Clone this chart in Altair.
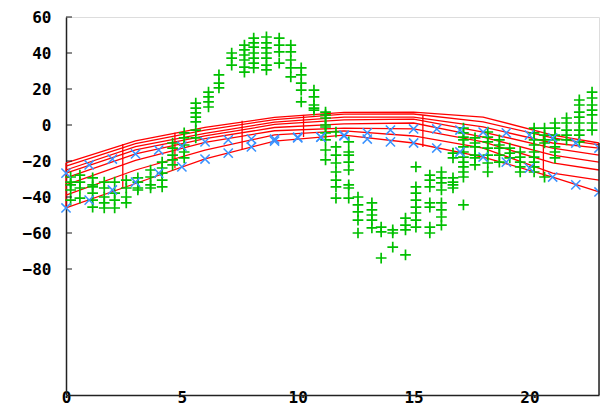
import altair as alt
import pandas as pd

# ---------------- data ----------------
red_x = [0, 3, 6, 9, 12, 15, 18, 21, 23]
red_curves = [
    [-21.1, -8.8, -1.3, 4.2, 7.0, 7.2, 4.4, -5.6, -10.0],
    [-22.8, -10.3, -2.8, 3.0, 6.0, 6.1, 1.7, -7.2, -11.1],
    [-25.0, -12.0, -4.6, 1.6, 4.4, 4.4, -1.1, -10.0, -12.8],
    [-26.7, -13.8, -6.1, 0.3, 2.8, 3.3, -3.9, -12.8, -16.7],
    [-29.4, -16.1, -7.6, -1.4, 0.6, 1.1, -6.7, -16.7, -20.6],
    [-33.3, -19.6, -9.6, -3.2, -1.7, -2.2, -9.4, -21.1, -25.0],
    [-38.9, -25.0, -13.9, -5.5, -3.3, -6.1, -12.8, -26.7, -30.6],
    [-46.1, -32.5, -18.8, -9.0, -5.6, -10.0, -17.8, -28.9, -37.2],
]
vseg_x = [0, 2.45, 4.7, 7.6, 10.25, 15.4, 20.6]
vseg_top = [-21.1, -10.5, -4.3, 2.4, 5.6, 5.6, -5.6]
vseg_bot = [-46.1, -35.0, -24.0, -13.3, -6.7, -12.2, -28.9]

blue_x = list(range(24))
blue_upper = [-26.7, -22.2, -18.9, -16.1, -13.9, -11.7, -9.4, -8.3, -7.8, -7.8,
              -6.7, -6.7, -5.6, -4.4, -2.8, -2.2, -2.2, -2.8, -3.9, -4.4,
              -5.6, -7.2, -10.0, -12.8]
blue_lower = [-46.1, -41.7, -36.1, -31.7, -26.7, -23.3, -18.9, -15.6, -12.2, -8.9,
              -7.2, -6.7, -6.1, -7.8, -9.4, -10.0, -12.8, -15.0, -17.8, -20.6,
              -23.9, -28.9, -33.3, -37.2]

green_x = [0.2, 0.6, 1.15, 1.65, 2.1, 2.6, 3.1, 3.65, 4.15, 4.6, 5.1, 5.6,
           6.15, 6.6, 7.15, 7.7, 8.1, 8.65, 9.2, 9.7, 10.15, 10.7, 11.2, 11.65,
           12.2, 12.6, 13.2, 13.6, 14.1, 14.65, 15.1, 15.7, 16.2, 16.7, 17.15,
           17.65, 18.2, 18.7, 19.15, 19.6, 20.2, 20.65, 21.1, 21.6, 22.15, 22.7]
green_y = [
    [-28.9, -31.7, -33.3, -36.1, -41.7],
    [-27.8, -31.7, -35.0, -40.6],
    [-29.4, -33.3, -34.4, -37.8, -41.7, -45.6],
    [-31.7, -35.0, -40.0, -43.3, -46.1],
    [-31.7, -37.8, -41.7, -46.1],
    [-30.6, -35.0, -40.0, -43.3],
    [-29.4, -31.7, -35.0, -36.1],
    [-25.0, -28.9, -33.3, -35.0],
    [-20.6, -23.9, -26.7, -30.6, -34.4],
    [-10.0, -12.8, -16.7, -19.4, -22.2],
    [-4.4, -7.2, -11.1, -15.0, -18.3],
    [12.2, 9.4, 6.7, 4.4, 1.7, -2.8, -7.2],
    [18.3, 15.6, 12.8, 10.0],
    [27.8, 23.3, 20.6],
    [40.0, 37.2, 33.3],
    [44.4, 41.7, 38.9, 36.1, 32.2, 29.4],
    [48.3, 45.6, 43.3, 40.0, 37.2, 34.4, 31.7],
    [48.9, 45.6, 42.8, 40.0, 37.2, 33.3, 30.6],
    [48.3, 44.4, 40.6, 34.4],
    [44.4, 40.6, 36.1, 31.7, 26.7],
    [31.7, 27.8, 23.3, 19.4, 12.8],
    [19.4, 15.6, 11.1, 9.4, 8.3],
    [7.2, 5.6, 3.9, 0.0, -1.1, -4.4, -8.3, -13.9, -19.4],
    [-3.9, -12.2, -16.7, -21.1, -26.1, -30.6, -34.4, -40.6],
    [-9.4, -15.0, -16.7, -20.6, -25.0, -33.3, -35.0, -40.6],
    [-40.0, -44.4, -48.3, -52.8, -60.0],
    [-43.3, -47.2, -50.0, -52.8, -57.2],
    [-56.7, -59.4, -73.9],
    [-58.3, -60.0, -67.8],
    [-51.7, -55.6, -58.3, -72.2],
    [-23.3, -34.4, -37.8, -41.7, -45.6, -48.9, -52.8, -56.7],
    [-27.8, -30.6, -34.4, -43.3, -45.6, -56.7, -60.0],
    [-26.1, -29.4, -32.2, -36.1, -43.3, -47.2, -51.1, -55.6],
    [-15.6, -18.3, -29.4, -31.7, -33.3, -35.0],
    [-1.7, -4.4, -6.7, -8.3, -12.2, -15.0, -17.8, -20.6, -23.3, -26.1, -28.9, -44.4],
    [-7.2, -10.0, -12.2, -16.7, -18.3, -22.2],
    [-3.9, -6.7, -9.4, -12.8, -16.7, -21.1, -26.1],
    [-8.3, -11.1, -12.8, -16.7, -20.6],
    [-12.8, -15.6, -18.3],
    [-15.0, -17.8, -20.6, -23.3, -26.1],
    [-1.7, -4.4, -8.3, -11.1, -15.0, -17.8, -20.6, -23.3, -26.1],
    [-1.7, -5.6, -8.3, -10.0, -28.9],
    [1.1, -1.7, -5.6, -8.3, -12.2, -15.0, -18.3],
    [3.9, 1.1, -2.8, -5.6, -8.3],
    [13.9, 11.1, 7.2, 4.4, 1.1, -2.8, -5.6, -9.4],
    [18.3, 15.0, 11.1, 8.3, 5.6, 1.1, -2.8],
]

x_ticks = [0, 5, 10, 15, 20]
y_ticks = [-80, -60, -40, -20, 0, 20, 40, 60]
x_domain = [0, 23]
y_domain = [-150, 60]

# ---------------- tables ----------------
red_df = pd.DataFrame(
    [{"x": xv, "y": yv, "c": i} for i, cur in enumerate(red_curves) for xv, yv in zip(red_x, cur)]
)
vseg_df = pd.DataFrame({"x": vseg_x, "y": vseg_top, "y2": vseg_bot})
blue_df = pd.DataFrame(
    [{"x": xv, "y": yv} for xv, yv in zip(blue_x, blue_upper)]
    + [{"x": xv, "y": yv} for xv, yv in zip(blue_x, blue_lower)]
)
green_df = pd.DataFrame(
    [{"x": xv, "y": yv} for xv, col in zip(green_x, green_y) for yv in col]
)
tick_df = pd.DataFrame({"y": y_ticks})
border_df = pd.DataFrame({"x": [23], "y": [-10], "y2": [-150]})

FONT = "DejaVu Sans Mono"
xs = alt.Scale(domain=x_domain, nice=False, zero=False)
ys = alt.Scale(domain=y_domain, nice=False, zero=False)

x_axis = alt.Axis(values=x_ticks, title=None, grid=False, ticks=False, tickSize=0,
                  labelPadding=-6, labelFont=FONT, labelFontSize=16, labelFontWeight="bold",
                  labelColor="#000", domainColor="#222", domainWidth=1.5, labelFlush=False)
y_axis = alt.Axis(values=y_ticks, title=None, grid=False, ticks=False, tickSize=0,
                  labelPadding=15, labelFont=FONT, labelFontSize=16, labelFontWeight="bold",
                  labelColor="#000", domainColor="#222", domainWidth=1.5)

red = alt.Chart(red_df).mark_line(color="#ff0000", strokeWidth=1.3).encode(
    x=alt.X("x:Q", scale=xs, axis=x_axis),
    y=alt.Y("y:Q", scale=ys, axis=y_axis),
    detail="c:N",
)
vseg = alt.Chart(vseg_df).mark_rule(color="#ff0000", strokeWidth=1.3).encode(
    x=alt.X("x:Q", scale=xs), y=alt.Y("y:Q", scale=ys), y2="y2:Q"
)
green = alt.Chart(green_df).mark_point(
    shape="M-1,0L1,0M0,-1L0,1", size=115, filled=False, color="#00c000", strokeWidth=1.7, opacity=1
).encode(x=alt.X("x:Q", scale=xs), y=alt.Y("y:Q", scale=ys))
blue = alt.Chart(blue_df).mark_point(
    shape="M-1,-1L1,1M-1,1L1,-1", size=85, filled=False, color="#3a92ff", strokeWidth=1.5, opacity=1
).encode(x=alt.X("x:Q", scale=xs), y=alt.Y("y:Q", scale=ys))
ticks = alt.Chart(tick_df).mark_tick(color="#222", thickness=1.5, size=6, orient="horizontal").encode(
    y=alt.Y("y:Q", scale=ys), x=alt.value(3)
)
border = alt.Chart(border_df).mark_rule(color="#222", strokeWidth=1.5).encode(
    x=alt.X("x:Q", scale=xs), y=alt.Y("y:Q", scale=ys), y2="y2:Q"
)

chart = alt.layer(red, vseg, green, blue, ticks, border).properties(
    width=533, height=378,
    autosize=alt.AutoSizeParams(type="none"),
    padding={"left": 58, "top": 9, "right": 1, "bottom": 10},
).configure_view(stroke=None).configure(background="white")

chart.save("out.html", embed_options={"renderer": "svg", "actions": False})
